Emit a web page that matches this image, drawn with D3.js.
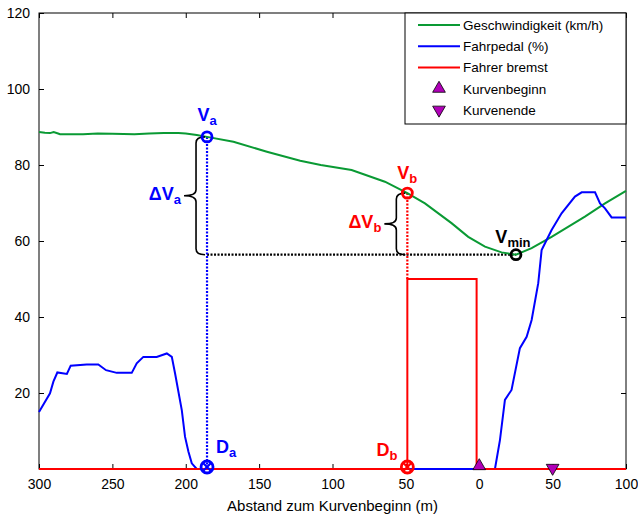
<!DOCTYPE html>
<html>
<head>
<meta charset="utf-8">
<script src="https://cdn.jsdelivr.net/npm/d3@7"></script>
<style>
  body { margin: 0; background: #fff; }
  text { font-family: Arial, "Liberation Sans", sans-serif; }
</style>
</head>
<body>
<svg id="chart" width="638" height="517"></svg>
<script>
// Abstand zum Kurvenbeginn (m), positive = vor der Kurve
const speedDist = [300, 296, 292.5, 290, 287, 285.7, 270, 260, 250, 235, 225, 215, 205, 200, 192.5, 185.5,
  167.5, 144.7, 122, 108, 87, 64.3, 49, 37, 18.9, 7.5, -3.9, -15.2, -25, -35.7, -49.3, -72, -85.7, -100];
const speed = [88.7, 88.5, 88.4, 88.7, 88.3, 88.1, 88.1, 88.3, 88.2, 88.1, 88.3, 88.4, 88.4, 88.3, 87.9, 87.4,
  86.1, 83.5, 81.1, 80.0, 78.7, 75.6, 72.6, 69.9, 64.7, 61.1, 58.5, 57.0, 56.4, 58.1, 61.1, 66.4, 69.9, 73.2];

const pedalDist = [300, 292.5, 290.2, 287.5, 281, 278.4, 267.5, 259.6, 254.3, 247, 236.8, 233.4, 228.9, 219.8,
  212.9, 209.5, 207.3, 202.7, 200.5, 198.2, 195.9, 192.5, -10.7, -14.1, -17.5, -22, -27.7, -32.3, -35.7,
  -40.2, -42.5, -44.8, -49.3, -56.1, -65.2, -69.8, -78.9, -82.3, -85.7, -90.2, -100];
const pedal = [15, 19.9, 23, 25.4, 25, 27.2, 27.5, 27.5, 26, 25.3, 25.3, 27.8, 29.5, 29.5,
  30.4, 29.5, 25.2, 15.5, 8.5, 4.6, 1.5, 0, 0, 7.6, 18.2, 20.8, 31.8, 34.8, 39.2,
  48.9, 57.6, 59.4, 62.9, 67.3, 71.7, 72.8, 72.8, 69.9, 68.6, 66.2, 66.2];

const brakeDist = [300, 49, 49, 1.8, 1.8, -100];
const brake = [0, 0, 50, 50, 0, 0];

const xTicks = [300, 250, 200, 150, 100, 50, 0, -50, -100];
const yTicks = [20, 40, 60, 80, 100, 120];

// Kennpunkte
const pointA = { d: 185.5, v: 87.4 };
const pointB = { d: 49, v: 72.6 };
const pointMin = { d: -25, v: 56.4 };
const curveStart = 0, curveEnd = -50;

const legendItems = [
  { label: "Geschwindigkeit (km/h)", type: "line", color: "#0a9a34" },
  { label: "Fahrpedal (%)", type: "line", color: "#0000ff" },
  { label: "Fahrer bremst", type: "line", color: "#ff0000" },
  { label: "Kurvenbeginn", type: "up" },
  { label: "Kurvenende", type: "down" }
];

const svg = d3.select("#chart");
const m = { left: 39, top: 13, right: 12, bottom: 48 };
const W = 638 - m.left - m.right, H = 517 - m.top - m.bottom;
const g = svg.append("g").attr("transform", `translate(${m.left},${m.top})`);

const x = d3.scaleLinear().domain([300, -100]).range([0, W]);
const y = d3.scaleLinear().domain([0, 120]).range([H, 0]);

const purple = "#b000b8";

// axes (MATLAB style: ticks inward, box)
g.append("g").attr("transform", `translate(0,${H})`)
  .call(d3.axisBottom(x).tickValues(xTicks).tickFormat(d => Math.abs(d)).tickSizeInner(-5).tickSizeOuter(0).tickPadding(10));
g.append("g")
  .call(d3.axisLeft(y).tickValues(yTicks).tickSizeInner(-5).tickSizeOuter(0).tickPadding(9));
g.append("g").call(d3.axisTop(x).tickValues(xTicks).tickFormat("").tickSizeInner(-5).tickSizeOuter(0));
g.append("g").attr("transform", `translate(${W},0)`)
  .call(d3.axisRight(y).tickValues(yTicks).tickFormat("").tickSizeInner(-5).tickSizeOuter(0));
g.selectAll(".domain").remove();
g.selectAll(".tick line").attr("stroke", "#000");
g.selectAll(".tick text").attr("font-size", 14).attr("fill", "#000")
  .attr("font-family", "Arial, 'Liberation Sans', sans-serif");
g.append("rect").attr("width", W).attr("height", H).attr("fill", "none").attr("stroke", "#000");

svg.append("text").attr("x", m.left + W / 2).attr("y", 511).attr("text-anchor", "middle")
  .attr("font-size", 15).text("Abstand zum Kurvenbeginn (m)");

const line = d3.line().x(d => x(d[0])).y(d => y(d[1]));

// annotation lines
g.append("line").attr("x1", x(pointA.d)).attr("x2", x(pointMin.d))
  .attr("y1", y(pointMin.v)).attr("y2", y(pointMin.v))
  .attr("stroke", "#000").attr("stroke-width", 2.2).attr("stroke-dasharray", "2,1.5");
g.append("line").attr("x1", x(pointA.d)).attr("x2", x(pointA.d))
  .attr("y1", y(pointA.v)).attr("y2", y(0))
  .attr("stroke", "#0000ff").attr("stroke-width", 2.2).attr("stroke-dasharray", "2,1.5");
g.append("line").attr("x1", x(pointB.d)).attr("x2", x(pointB.d))
  .attr("y1", y(pointB.v)).attr("y2", y(50))
  .attr("stroke", "#ff0000").attr("stroke-width", 2.2).attr("stroke-dasharray", "2,1.5");

// series
g.append("path").datum(d3.zip(speedDist, speed)).attr("d", line)
  .attr("fill", "none").attr("stroke", "#0a9a34").attr("stroke-width", 2);
g.append("path").datum(d3.zip(pedalDist, pedal)).attr("d", line)
  .attr("fill", "none").attr("stroke", "#0000ff").attr("stroke-width", 2);
g.append("path").datum(d3.zip(brakeDist, brake)).attr("d", line)
  .attr("fill", "none").attr("stroke", "#ff0000").attr("stroke-width", 2);

// braces
function brace(xr, y1, y2) {
  const xm = xr - 9, xt = xr - 21, ym = (y1 + y2) / 2, r = 6;
  return `M${xr},${y1} Q${xm},${y1} ${xm},${y1 + r} L${xm},${ym - r} Q${xm},${ym} ${xt},${ym}` +
    ` Q${xm},${ym} ${xm},${ym + r} L${xm},${y2 - r} Q${xm},${y2} ${xr},${y2}`;
}
g.append("path").attr("d", brace(x(pointA.d) - 2, y(pointA.v), y(pointMin.v)))
  .attr("fill", "none").attr("stroke", "#000").attr("stroke-width", 1.6);
g.append("path").attr("d", brace(x(pointB.d) - 2, y(pointB.v), y(pointMin.v)))
  .attr("fill", "none").attr("stroke", "#000").attr("stroke-width", 1.6);

// markers
function ring(d, v, color, r, dy) {
  g.append("circle").attr("cx", x(d)).attr("cy", y(v) + (dy || 0)).attr("r", r)
    .attr("fill", "none").attr("stroke", color).attr("stroke-width", 2.8);
}
function crossRing(d, v, color) {
  const cx = x(d), cy = y(v) - 2, r = 6;
  ring(d, v, color, r, -2);
  const k = r * 0.7;
  g.append("path").attr("d", `M${cx - k},${cy - k}L${cx + k},${cy + k}M${cx - k},${cy + k}L${cx + k},${cy - k}`)
    .attr("stroke", color).attr("stroke-width", 2.2);
}
ring(pointA.d, pointA.v, "#0000ff", 5);
ring(pointB.d, pointB.v, "#ff0000", 5);
ring(pointMin.d, pointMin.v, "#000", 5);
crossRing(pointA.d, 0, "#0000ff");
crossRing(pointB.d, 0, "#ff0000");

const tri = d3.symbol().type(d3.symbolTriangle).size(70);
g.append("path").attr("d", tri).attr("transform", `translate(${x(curveStart)},${y(0) - 3})`)
  .attr("fill", purple).attr("stroke", "#000").attr("stroke-width", 0.8);
g.append("path").attr("d", tri).attr("transform", `translate(${x(curveEnd)},${y(0) - 1}) rotate(180)`)
  .attr("fill", purple).attr("stroke", "#000").attr("stroke-width", 0.8);

// labels with subscripts
function label(main, sub, px, py, color, anchor) {
  const t = g.append("text").attr("x", px).attr("y", py).attr("fill", color)
    .attr("font-weight", "bold").attr("font-size", 18).attr("text-anchor", anchor || "middle");
  t.append("tspan").text(main);
  t.append("tspan").attr("dy", 4).attr("font-size", 13).text(sub);
}
label("V", "a", x(pointA.d), y(pointA.v) - 16, "#0000ff");
label("V", "b", x(pointB.d), y(pointB.v) - 14, "#ff0000");
label("V", "min", x(pointMin.d) - 3, y(pointMin.v) - 12, "#000");
label("D", "a", x(pointA.d) + 9, y(0) - 16, "#0000ff", "start");
label("D", "b", x(pointB.d) - 10, y(0) - 13, "#ff0000", "end");
label("ΔV", "a", x(pointA.d) - 26, y((pointA.v + pointMin.v) / 2) + 4, "#0000ff", "end");
label("ΔV", "b", x(pointB.d) - 26, y((pointB.v + pointMin.v) / 2) + 4, "#ff0000", "end");

// legend
const lg = g.append("g").attr("transform", `translate(${W - 221},0)`);
lg.append("rect").attr("width", 221).attr("height", 111).attr("fill", "#fff").attr("stroke", "#000");
legendItems.forEach((it, i) => {
  const cy = 12 + i * 21.2;
  if (it.type === "line") {
    lg.append("line").attr("x1", 13).attr("x2", 55).attr("y1", cy).attr("y2", cy)
      .attr("stroke", it.color).attr("stroke-width", 2);
  } else {
    lg.append("path").attr("d", tri)
      .attr("transform", `translate(34,${cy}) rotate(${it.type === "down" ? 180 : 0})`)
      .attr("fill", purple).attr("stroke", "#000").attr("stroke-width", 0.8);
  }
  lg.append("text").attr("x", 58).attr("y", cy + 5).attr("font-size", 13.5).text(it.label);
});
</script>
</body>
</html>
